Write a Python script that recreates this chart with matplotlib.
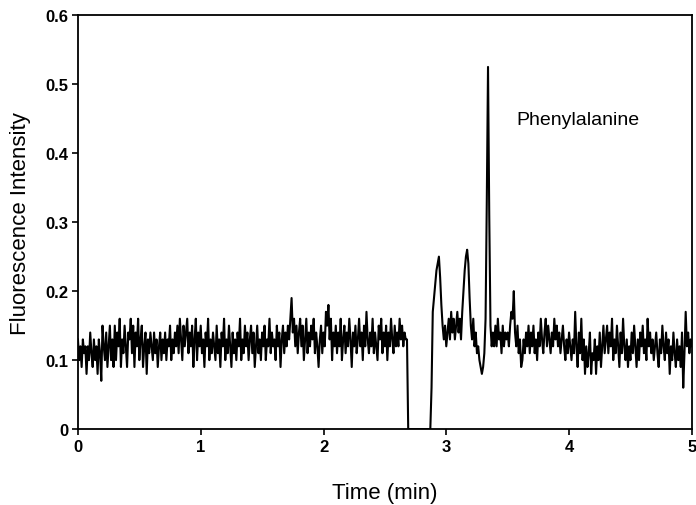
import numpy as np
import matplotlib.pyplot as plt

plt.rcParams['font.family'] = ['Liberation Sans', 'DejaVu Sans']

# sampling interval of the trace (min)
sample_step = 0.01

# fluorescence intensity, one row per 0.1 min
intensity = [
    0.13, 0.10, 0.12, 0.09, 0.13, 0.11, 0.12, 0.08, 0.12, 0.10,
    0.14, 0.11, 0.09, 0.13, 0.10, 0.12, 0.08, 0.13, 0.11, 0.07,
    0.15, 0.12, 0.10, 0.14, 0.09, 0.12, 0.15, 0.10, 0.13, 0.09,
    0.15, 0.10, 0.14, 0.12, 0.16, 0.09, 0.13, 0.11, 0.15, 0.12,
    0.09, 0.14, 0.13, 0.16, 0.11, 0.15, 0.09, 0.14, 0.12, 0.16,
    0.10, 0.13, 0.15, 0.09, 0.12, 0.14, 0.08, 0.13, 0.11, 0.14,
    0.12, 0.10, 0.14, 0.11, 0.13, 0.09, 0.12, 0.14, 0.10, 0.13,
    0.11, 0.14, 0.10, 0.13, 0.12, 0.15, 0.10, 0.13, 0.11, 0.14,
    0.12, 0.15, 0.11, 0.16, 0.13, 0.10, 0.15, 0.12, 0.14, 0.16,
    0.11, 0.14, 0.12, 0.15, 0.09, 0.13, 0.16, 0.10, 0.14, 0.12,
    0.15, 0.11, 0.13, 0.09, 0.14, 0.12, 0.16, 0.10, 0.13, 0.11,
    0.14, 0.12, 0.10, 0.15, 0.11, 0.13, 0.09, 0.14, 0.12, 0.16,
    0.10, 0.13, 0.11, 0.15, 0.12, 0.09, 0.14, 0.11, 0.13, 0.10,
    0.14, 0.12, 0.16, 0.10, 0.13, 0.11, 0.15, 0.12, 0.14, 0.10,
    0.13, 0.15, 0.11, 0.14, 0.09, 0.12, 0.15, 0.11, 0.13, 0.10,
    0.14, 0.12, 0.15, 0.10, 0.13, 0.12, 0.16, 0.11, 0.14, 0.12,
    0.13, 0.10, 0.15, 0.12, 0.14, 0.09, 0.13, 0.15, 0.11, 0.14,
    0.12, 0.15, 0.13, 0.16, 0.19, 0.14, 0.16, 0.12, 0.15, 0.11,
    0.14, 0.16, 0.12, 0.15, 0.10, 0.13, 0.16, 0.11, 0.14, 0.12,
    0.15, 0.13, 0.16, 0.11, 0.14, 0.12, 0.09, 0.13, 0.15, 0.11,
    0.14, 0.12, 0.17, 0.15, 0.18, 0.13, 0.16, 0.10, 0.14, 0.12,
    0.15, 0.11, 0.14, 0.12, 0.16, 0.10, 0.13, 0.15, 0.11, 0.14,
    0.12, 0.16, 0.13, 0.09, 0.14, 0.12, 0.15, 0.11, 0.13, 0.16,
    0.12, 0.14, 0.10, 0.15, 0.12, 0.17, 0.13, 0.11, 0.14, 0.12,
    0.16, 0.11, 0.14, 0.12, 0.10, 0.15, 0.13, 0.16, 0.11, 0.14,
    0.12, 0.15, 0.10, 0.14, 0.12, 0.16, 0.13, 0.11, 0.15, 0.12,
    0.14, 0.12, 0.16, 0.13, 0.15, 0.12, 0.14, 0.13, 0.13, 0.00,
    0.00, 0.00, 0.00, 0.00, 0.00, 0.00, 0.00, 0.00, 0.00, 0.00,
    0.00, 0.00, 0.00, 0.00, 0.00, 0.00, 0.00, 0.00, 0.06, 0.17,
    0.19, 0.21, 0.23, 0.24, 0.25, 0.22, 0.18, 0.15, 0.13, 0.15,
    0.12, 0.14, 0.16, 0.13, 0.17, 0.14, 0.16, 0.13, 0.15, 0.17,
    0.14, 0.16, 0.13, 0.17, 0.20, 0.23, 0.25, 0.26, 0.24, 0.19,
    0.15, 0.13, 0.16, 0.12, 0.14, 0.11, 0.12, 0.10, 0.09, 0.08,
    0.09, 0.11, 0.16, 0.33, 0.525, 0.31, 0.15, 0.12, 0.14, 0.12,
    0.15, 0.12, 0.16, 0.13, 0.14, 0.11, 0.15, 0.12, 0.14, 0.13,
    0.14, 0.12, 0.15, 0.17, 0.16, 0.20, 0.14, 0.12, 0.15, 0.11,
    0.13, 0.09, 0.10, 0.13, 0.11, 0.14, 0.12, 0.15, 0.11, 0.14,
    0.12, 0.15, 0.11, 0.13, 0.10, 0.14, 0.12, 0.16, 0.13, 0.11,
    0.14, 0.16, 0.12, 0.15, 0.13, 0.11, 0.14, 0.12, 0.16, 0.13,
    0.15, 0.12, 0.14, 0.11, 0.13, 0.15, 0.12, 0.10, 0.13, 0.11,
    0.14, 0.12, 0.10, 0.13, 0.11, 0.17, 0.12, 0.09, 0.14, 0.11,
    0.16, 0.10, 0.13, 0.08, 0.12, 0.09, 0.11, 0.14, 0.08, 0.11,
    0.10, 0.13, 0.08, 0.12, 0.10, 0.14, 0.09, 0.12, 0.15, 0.11,
    0.13, 0.15, 0.11, 0.14, 0.12, 0.16, 0.10, 0.13, 0.11, 0.15,
    0.12, 0.09, 0.14, 0.11, 0.16, 0.12, 0.10, 0.13, 0.09, 0.12,
    0.10, 0.14, 0.11, 0.15, 0.12, 0.09, 0.13, 0.10, 0.14, 0.12,
    0.15, 0.11, 0.13, 0.10, 0.16, 0.12, 0.14, 0.11, 0.13, 0.10,
    0.12, 0.14, 0.11, 0.09, 0.13, 0.11, 0.15, 0.12, 0.10, 0.14,
    0.11, 0.13, 0.08, 0.12, 0.10, 0.14, 0.11, 0.09, 0.13, 0.10,
    0.12, 0.09, 0.14, 0.06, 0.11, 0.17, 0.12, 0.14, 0.11, 0.13,
    0.12,
]
time = np.arange(len(intensity)) * sample_step

x_ticks = [0, 1, 2, 3, 4, 5]
y_ticks = [0, 0.1, 0.2, 0.3, 0.4, 0.5, 0.6]
y_tick_labels = ['0', '0.1', '0.2', '0.3', '0.4', '0.5', '0.6']

fig = plt.figure(figsize=(6.96, 5.06), dpi=100)
ax = fig.add_axes([0.112, 0.150, 0.882, 0.818])
ax.plot(time, intensity, color='black', linewidth=1.5)

ax.set_xlim(0, 5)
ax.set_ylim(0, 0.6)
ax.set_xticks(x_ticks)
ax.set_xticklabels([str(t) for t in x_ticks], fontweight='bold', fontsize=12)
ax.set_yticks(y_ticks)
ax.set_yticklabels(y_tick_labels, fontweight='bold', fontsize=12)
ax.tick_params(axis='both', direction='out', length=4, width=1.2, pad=3)
for s in ax.spines.values():
    s.set_linewidth(1.3)

ax.set_xlabel('Time (min)', fontsize=16, labelpad=20)
ax.set_ylabel('Fluorescence Intensity', fontsize=16, labelpad=10)
ax.text(3.575, 0.449, 'Phenylalanine', fontsize=14, ha='left', va='center')

fig.savefig('out.png', dpi=100)
